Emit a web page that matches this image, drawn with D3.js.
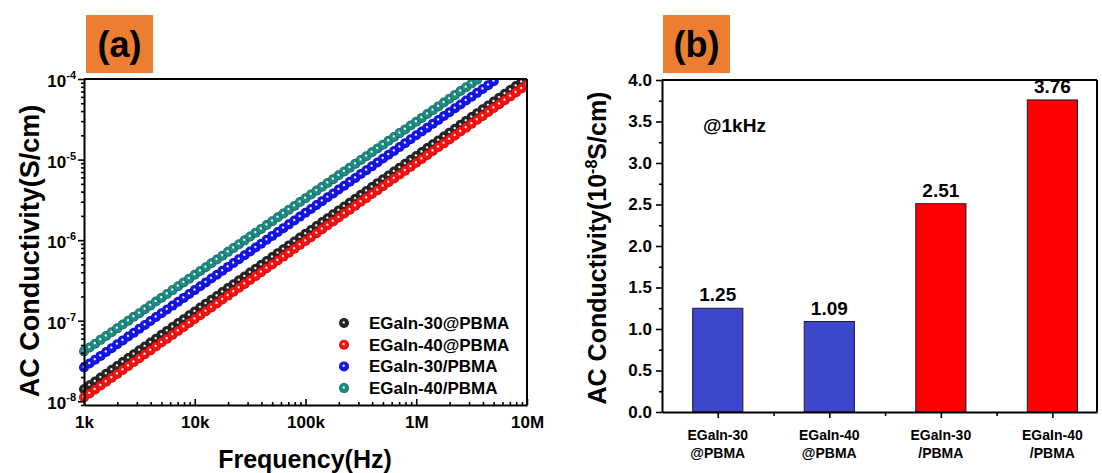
<!DOCTYPE html>
<html>
<head>
<meta charset="utf-8">
<script src="https://cdn.jsdelivr.net/npm/d3@7"></script>
<style>
  body { margin: 0; background: #fff; }
  svg text { font-family: "Liberation Sans", Arial, sans-serif; font-weight: bold; fill: #000; }
</style>
</head>
<body>
<script>
// ---- panel (a): AC conductivity vs frequency ----
// frequency points (Hz)
const freq = [
  1000, 1122, 1259, 1413, 1585, 1778, 1995, 2239, 2512, 2818, 3162, 3548, 3981, 4467, 5012, 5623, 6310, 7079, 7943, 8913,
  10000, 11220, 12589, 14125, 15849, 17783, 19953, 22387, 25119, 28184, 31623, 35481, 39811, 44668, 50119, 56234, 63096, 70795, 79433, 89125,
  100000, 112202, 125893, 141254, 158489, 177828, 199526, 223872, 251189, 281838, 316228, 354813, 398107, 446684, 501187, 562341, 630957, 707946, 794328, 891251,
  1000000, 1122018, 1258925, 1412538, 1584893, 1778279, 1995262, 2238721, 2511886, 2818383, 3162278, 3548134, 3981072, 4466836, 5011872, 5623413, 6309573, 7079458, 7943282, 8912509,
  10000000
];

// conductivity (S/cm), same order as freq
const sigma30at = [
  1.41e-8, 1.58e-8, 1.76e-8, 1.97e-8, 2.20e-8, 2.46e-8, 2.75e-8, 3.07e-8, 3.44e-8, 3.84e-8, 4.29e-8, 4.80e-8, 5.36e-8, 5.98e-8, 6.69e-8, 7.48e-8, 8.36e-8, 9.34e-8,
  1.04e-7, 1.17e-7, 1.30e-7, 1.46e-7, 1.63e-7, 1.82e-7, 2.03e-7, 2.27e-7, 2.54e-7, 2.84e-7, 3.17e-7, 3.54e-7, 3.96e-7, 4.42e-7, 4.94e-7, 5.52e-7, 6.17e-7, 6.90e-7, 7.71e-7, 8.61e-7, 9.63e-7,
  1.08e-6, 1.20e-6, 1.34e-6, 1.50e-6, 1.68e-6, 1.87e-6, 2.10e-6, 2.34e-6, 2.62e-6, 2.92e-6, 3.27e-6, 3.65e-6, 4.08e-6, 4.56e-6, 5.10e-6, 5.69e-6, 6.36e-6, 7.11e-6, 7.94e-6, 8.88e-6, 9.93e-6,
  1.11e-5, 1.24e-5, 1.39e-5, 1.55e-5, 1.73e-5, 1.93e-5, 2.16e-5, 2.41e-5, 2.70e-5, 3.02e-5, 3.37e-5, 3.77e-5, 4.21e-5, 4.70e-5, 5.25e-5, 5.87e-5, 6.56e-5, 7.33e-5, 8.19e-5, 9.16e-5
];
const sigma40at = [
  1.12e-8, 1.25e-8, 1.40e-8, 1.57e-8, 1.75e-8, 1.96e-8, 2.19e-8, 2.45e-8, 2.74e-8, 3.07e-8, 3.43e-8, 3.83e-8, 4.29e-8, 4.79e-8, 5.36e-8, 5.99e-8, 6.70e-8, 7.49e-8, 8.38e-8, 9.37e-8,
  1.05e-7, 1.17e-7, 1.31e-7, 1.46e-7, 1.64e-7, 1.83e-7, 2.05e-7, 2.29e-7, 2.56e-7, 2.86e-7, 3.20e-7, 3.58e-7, 4.00e-7, 4.47e-7, 5.00e-7, 5.59e-7, 6.25e-7, 6.99e-7, 7.82e-7, 8.74e-7, 9.77e-7,
  1.09e-6, 1.22e-6, 1.37e-6, 1.53e-6, 1.71e-6, 1.91e-6, 2.14e-6, 2.39e-6, 2.67e-6, 2.99e-6, 3.34e-6, 3.73e-6, 4.17e-6, 4.67e-6, 5.22e-6, 5.83e-6, 6.52e-6, 7.29e-6, 8.15e-6, 9.12e-6,
  1.02e-5, 1.14e-5, 1.28e-5, 1.43e-5, 1.59e-5, 1.78e-5, 1.99e-5, 2.23e-5, 2.49e-5, 2.79e-5, 3.12e-5, 3.48e-5, 3.90e-5, 4.36e-5, 4.87e-5, 5.45e-5, 6.09e-5, 6.81e-5, 7.61e-5, 8.51e-5
];
const sigma30sl = [
  2.63e-8, 2.94e-8, 3.28e-8, 3.66e-8, 4.09e-8, 4.57e-8, 5.11e-8, 5.70e-8, 6.37e-8, 7.11e-8, 7.94e-8, 8.87e-8, 9.91e-8,
  1.11e-7, 1.24e-7, 1.38e-7, 1.54e-7, 1.72e-7, 1.92e-7, 2.15e-7, 2.40e-7, 2.68e-7, 2.99e-7, 3.34e-7, 3.73e-7, 4.17e-7, 4.66e-7, 5.20e-7, 5.81e-7, 6.49e-7, 7.24e-7, 8.09e-7, 9.04e-7,
  1.01e-6, 1.13e-6, 1.26e-6, 1.41e-6, 1.57e-6, 1.75e-6, 1.96e-6, 2.19e-6, 2.44e-6, 2.73e-6, 3.05e-6, 3.40e-6, 3.80e-6, 4.25e-6, 4.74e-6, 5.30e-6, 5.92e-6, 6.61e-6, 7.38e-6, 8.24e-6, 9.20e-6,
  1.03e-5, 1.15e-5, 1.28e-5, 1.43e-5, 1.60e-5, 1.79e-5, 2.00e-5, 2.23e-5, 2.49e-5, 2.78e-5, 3.10e-5, 3.47e-5, 3.87e-5, 4.33e-5, 4.83e-5, 5.40e-5, 6.03e-5, 6.73e-5, 7.52e-5, 8.39e-5, 9.38e-5
];
const sigma40sl = [
  4.17e-8, 4.65e-8, 5.19e-8, 5.79e-8, 6.46e-8, 7.20e-8, 8.04e-8, 8.96e-8,
  1.00e-7, 1.12e-7, 1.24e-7, 1.39e-7, 1.55e-7, 1.73e-7, 1.93e-7, 2.15e-7, 2.40e-7, 2.68e-7, 2.99e-7, 3.33e-7, 3.72e-7, 4.15e-7, 4.62e-7, 5.16e-7, 5.75e-7, 6.42e-7, 7.16e-7, 7.99e-7, 8.91e-7, 9.94e-7,
  1.11e-6, 1.24e-6, 1.38e-6, 1.54e-6, 1.72e-6, 1.92e-6, 2.14e-6, 2.39e-6, 2.66e-6, 2.97e-6, 3.31e-6, 3.69e-6, 4.12e-6, 4.60e-6, 5.13e-6, 5.72e-6, 6.38e-6, 7.12e-6, 7.94e-6, 8.86e-6, 9.89e-6,
  1.10e-5, 1.23e-5, 1.37e-5, 1.53e-5, 1.71e-5, 1.91e-5, 2.13e-5, 2.37e-5, 2.65e-5, 2.95e-5, 3.29e-5, 3.67e-5, 4.10e-5, 4.57e-5, 5.10e-5, 5.69e-5, 6.35e-5, 7.08e-5, 7.90e-5, 8.81e-5, 9.83e-5
];

const seriesNames = ["EGaIn-30@PBMA", "EGaIn-40@PBMA", "EGaIn-30/PBMA", "EGaIn-40/PBMA"];
const seriesColors = ["#262626", "#ff1010", "#1414f0", "#1d8c84"];
const seriesData = [sigma30at, sigma40at, sigma30sl, sigma40sl];

const xTicksA = [1e3, 1e4, 1e5, 1e6, 1e7];
const xTickLabelsA = ["1k", "10k", "100k", "1M", "10M"];
const yTicksA = [1e-8, 1e-7, 1e-6, 1e-5, 1e-4];
const yTickExpA = ["-8", "-7", "-6", "-5", "-4"];

// ---- panel (b): conductivity at 1 kHz ----
const barCats = [["EGaIn-30", "@PBMA"], ["EGaIn-40", "@PBMA"], ["EGaIn-30", "/PBMA"], ["EGaIn-40", "/PBMA"]];
const barValues = [1.25, 1.09, 2.51, 3.76];
const barColors = ["#3d47cc", "#3d47cc", "#ff0000", "#ff0000"];
const yTicksB = [0, 0.5, 1.0, 1.5, 2.0, 2.5, 3.0, 3.5, 4.0];
const yMinorB = [0.25, 0.75, 1.25, 1.75, 2.25, 2.75, 3.25, 3.75];

const svg = d3.select("body").append("svg")
    .attr("width", 1102)
    .attr("height", 473);

svg.append("rect").attr("width", 1102).attr("height", 473).attr("fill", "#fff");

const defs = svg.append("defs");

// shaded ball markers
seriesColors.forEach((c, i) => {
    const g = defs.append("radialGradient")
        .attr("id", "ball" + i)
        .attr("cx", "50%").attr("cy", "50%").attr("r", "50%")
        .attr("fx", "46%").attr("fy", "42%");
    g.append("stop").attr("offset", "0%").attr("stop-color", "#ffffff");
    g.append("stop").attr("offset", "10%").attr("stop-color", "#ffffff");
    g.append("stop").attr("offset", "34%").attr("stop-color", c);
    g.append("stop").attr("offset", "80%").attr("stop-color", c);
    g.append("stop").attr("offset", "100%").attr("stop-color", d3.color(c).darker(1.4));
});

// ================= panel (a) =================
const xA = d3.scaleLog().domain([1e3, 1e7]).range([84, 527]);
const yA = d3.scaleLog().domain([9e-9, 1e-4]).range([405, 79]);

defs.append("clipPath").attr("id", "clipA")
    .append("rect").attr("x", 70).attr("y", 79).attr("width", 527 - 70).attr("height", 340);

const plotA = svg.append("g").attr("clip-path", "url(#clipA)");
seriesData.forEach((vals, s) => {
    plotA.append("g").selectAll("circle")
        .data(vals.map((v, i) => ({ f: freq[i], v: v })))
        .join("circle")
        .attr("cx", d => xA(d.f))
        .attr("cy", d => yA(d.v))
        .attr("r", 5)
        .attr("fill", "url(#ball" + s + ")");
});

// bottom axis (ticks inward)
const xMinorA = xA.ticks().filter(t => !xTicksA.includes(t));
const axA = svg.append("g").attr("transform", "translate(0,405)");
axA.call(d3.axisBottom(xA).tickValues(xTicksA).tickSize(-6).tickSizeOuter(0)
    .tickFormat((d, i) => xTickLabelsA[i]).tickPadding(11));
axA.append("g").call(d3.axisBottom(xA).tickValues(xMinorA).tickSize(-3).tickSizeOuter(0).tickFormat(""))
    .select(".domain").remove();
axA.selectAll("text").attr("font-size", 17).attr("font-family", null);

// left axis (ticks outward)
const yMinorA = yA.ticks().filter(t => !yTicksA.some(m => Math.abs(m - t) / m < 1e-6));
const ayA = svg.append("g").attr("transform", "translate(84,0)");
ayA.call(d3.axisLeft(yA).tickValues(yTicksA).tickSize(6).tickSizeOuter(0).tickFormat(""));
ayA.append("g").call(d3.axisLeft(yA).tickValues(yMinorA).tickSize(3).tickSizeOuter(0).tickFormat(""))
    .select(".domain").remove();
yTicksA.forEach((t, i) => {
    const tx = svg.append("text")
        .attr("x", 76).attr("y", yA(t) + 8)
        .attr("text-anchor", "end")
        .attr("font-size", 17);
    tx.append("tspan").text("10");
    tx.append("tspan").attr("dy", -8).attr("font-size", 11).text(yTickExpA[i]);
});

// frame
svg.append("line").attr("x1", 84).attr("x2", 527).attr("y1", yA(1e-4)).attr("y2", yA(1e-4));
svg.append("line").attr("x1", 527).attr("x2", 527).attr("y1", 79).attr("y2", 405);

// legend
const legA = svg.append("g");
seriesNames.forEach((n, i) => {
    const ly = 323 + i * 21.7;
    legA.append("circle").attr("cx", 344).attr("cy", ly).attr("r", 5).attr("fill", "url(#ball" + i + ")");
    legA.append("text").attr("x", 369).attr("y", ly + 6).attr("font-size", 17).text(n);
});

// titles
svg.append("text").attr("x", 305).attr("y", 468).attr("text-anchor", "middle")
    .attr("font-size", 25).text("Frequency(Hz)");
svg.append("text").attr("transform", "translate(39,251) rotate(-90)").attr("text-anchor", "middle")
    .attr("font-size", 27).text("AC Conductivity(S/cm)");

// ================= panel (b) =================
const xB = d3.scaleLinear().domain([0.5, 4.4]).range([662, 1097]);
const yB = d3.scaleLinear().domain([0, 4]).range([412, 80]);
const bw = xB(1.225) - xB(0.775);

svg.append("g").selectAll("rect")
    .data(barValues)
    .join("rect")
    .attr("x", (d, i) => xB(i + 1) - bw / 2)
    .attr("y", d => yB(d))
    .attr("width", bw)
    .attr("height", d => yB(0) - yB(d))
    .attr("fill", (d, i) => barColors[i])
    .attr("stroke", "#1a1a40")
    .attr("stroke-width", 1);

svg.append("g").selectAll("text")
    .data(barValues)
    .join("text")
    .attr("x", (d, i) => xB(i + 1))
    .attr("y", d => yB(d) - 7)
    .attr("text-anchor", "middle")
    .attr("font-size", 19)
    .text(d => d3.format(".2f")(d));

// left axis
const ayB = svg.append("g").attr("transform", "translate(662,0)");
ayB.call(d3.axisLeft(yB).tickValues(yTicksB).tickSize(6).tickSizeOuter(0)
    .tickFormat(d3.format(".1f")).tickPadding(4));
ayB.append("g").call(d3.axisLeft(yB).tickValues(yMinorB).tickSize(3).tickSizeOuter(0).tickFormat(""))
    .select(".domain").remove();
ayB.selectAll("text").attr("font-size", 17).attr("font-family", null);

// bottom axis
const axB = svg.append("g").attr("transform", "translate(0,412)");
axB.call(d3.axisBottom(xB).tickValues([1, 2, 3, 4]).tickSize(6).tickSizeOuter(0).tickFormat(""));
axB.append("g").call(d3.axisBottom(xB).tickValues([1.5, 2.5, 3.5]).tickSize(4).tickSizeOuter(0).tickFormat(""))
    .select(".domain").remove();

barCats.forEach((c, i) => {
    const t = svg.append("text").attr("text-anchor", "middle").attr("font-size", 14);
    t.append("tspan").attr("x", xB(i + 1)).attr("y", 440).text(c[0]);
    t.append("tspan").attr("x", xB(i + 1)).attr("y", 458).text(c[1]);
});

// frame
svg.append("line").attr("x1", 662).attr("x2", 1097).attr("y1", 80).attr("y2", 80);
svg.append("line").attr("x1", 1097).attr("x2", 1097).attr("y1", 80).attr("y2", 412);

svg.append("text").attr("x", 703).attr("y", 132).attr("font-size", 19).text("@1kHz");

const tB = svg.append("text").attr("transform", "translate(606,248) rotate(-90)")
    .attr("text-anchor", "middle").attr("font-size", 25);
tB.append("tspan").text("AC Conductivity(10");
tB.append("tspan").attr("dy", -9).attr("font-size", 16).text("-8");
tB.append("tspan").attr("dy", 9).text("S/cm)");

// axis styling
svg.selectAll(".domain, line").attr("stroke", "#000").attr("stroke-width", 2);
svg.selectAll(".tick line").attr("stroke-width", 1.6);

// panel tags
[["(a)", 86], ["(b)", 663]].forEach(([lab, x0]) => {
    svg.append("rect").attr("x", x0).attr("y", 15).attr("width", 67).attr("height", 58).attr("fill", "#ed7d31");
    svg.append("text").attr("x", x0 + 33.5).attr("y", 57).attr("text-anchor", "middle")
        .attr("font-size", 36).text(lab);
});
</script>
</body>
</html>
